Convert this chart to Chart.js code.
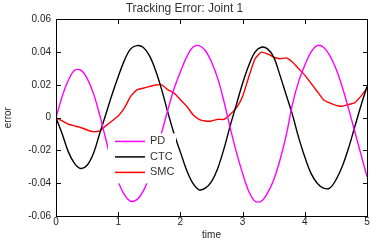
<!DOCTYPE html>
<html>
<head>
<meta charset="utf-8">
<script src="https://cdn.jsdelivr.net/npm/chart.js@4"></script>
<style>
  html, body { margin: 0; padding: 0; background: #fff; }
  #wrap { width: 385px; height: 249px; position: relative; }
  #frame { position: absolute; box-sizing: border-box; border: 1px solid #000; pointer-events: none; }
  .tk { position: absolute; background: #000; pointer-events: none; }
</style>
</head>
<body>
<div id="wrap"><canvas id="errChart"></canvas><div id="frame"></div></div>
<script>
// time (s)
const time = [0, 0.1, 0.2, 0.3, 0.4, 0.5, 0.6, 0.7, 0.8, 0.9,
    1.0, 1.1, 1.2, 1.3, 1.4, 1.5, 1.6, 1.7, 1.8, 1.9,
    2.0, 2.1, 2.2, 2.3, 2.4, 2.5, 2.6, 2.7, 2.8, 2.9,
    3.0, 3.1, 3.2, 3.3, 3.4, 3.5, 3.6, 3.7, 3.8, 3.9,
    4.0, 4.1, 4.2, 4.3, 4.4, 4.5, 4.6, 4.7, 4.8, 4.9, 5.0];

const pdError = [0, 0.013, 0.023, 0.029, 0.029, 0.024, 0.015, 0.002, -0.013, -0.028,
    -0.039, -0.047, -0.051, -0.050, -0.045, -0.036, -0.024, -0.009, 0.005, 0.018,
    0.028, 0.037, 0.043, 0.044, 0.041, 0.034, 0.024, 0.010, -0.006, -0.021,
    -0.034, -0.045, -0.051, -0.051, -0.046, -0.038, -0.026, -0.011, 0.008, 0.022,
    0.032, 0.040, 0.044, 0.043, 0.038, 0.030, 0.019, 0.006, -0.008, -0.022, -0.036];

const ctcError = [0, -0.010, -0.021, -0.028, -0.031, -0.029, -0.022, -0.010, 0.002, 0.014,
    0.025, 0.035, 0.042, 0.044, 0.043, 0.038, 0.029, 0.017, 0.003, -0.010,
    -0.021, -0.032, -0.040, -0.044, -0.043, -0.039, -0.031, -0.019, -0.005, 0.008,
    0.021, 0.032, 0.040, 0.043, 0.042, 0.037, 0.026, 0.014, 0.002, -0.012,
    -0.024, -0.034, -0.040, -0.043, -0.043, -0.038, -0.030, -0.019, -0.006, 0.007, 0.019];

const smcError = [0, -0.002, -0.004, -0.005, -0.006, -0.0075, -0.0085, -0.008, -0.005, -0.002,
    0.001, 0.006, 0.013, 0.017, 0.018, 0.019, 0.020, 0.020, 0.017, 0.015,
    0.011, 0.007, 0.002, -0.001, -0.002, -0.002, -0.001, -0.001, 0.002, 0.006,
    0.013, 0.025, 0.036, 0.040, 0.039, 0.037, 0.036, 0.0365, 0.034, 0.030,
    0.026, 0.021, 0.016, 0.011, 0.009, 0.0075, 0.007, 0.008, 0.009, 0.013, 0.018];

const seriesNames = ['PD', 'CTC', 'SMC'];
const seriesColors = ['#ff00ff', '#000000', '#ff0000'];
const xTicks = [0, 1, 2, 3, 4, 5];
const yTicks = [-0.06, -0.04, -0.02, 0, 0.02, 0.04, 0.06];

const toPoints = arr => arr.map((v, i) => ({ x: time[i], y: v }));
const labelFont = { size: 10, family: 'Liberation Sans' };

// legend inside the axes, white box over the lines
const innerLegend = {
    id: 'innerLegend',
    afterDatasetsDraw(chart) {
        const ctx = chart.ctx;
        const a = chart.chartArea;
        const left = a.left + 52, top = a.top + 114;
        ctx.save();
        ctx.fillStyle = '#fff';
        ctx.fillRect(left, top, 68, 50);
        ctx.font = '11px "Liberation Sans", Arial, sans-serif';
        ctx.textBaseline = 'middle';
        chart.data.datasets.forEach((ds, i) => {
            const y = top + 8 + i * 15.5;
            ctx.strokeStyle = ds.borderColor;
            ctx.lineWidth = 1.5;
            ctx.beginPath();
            ctx.moveTo(left + 7, y);
            ctx.lineTo(left + 37, y);
            ctx.stroke();
            ctx.fillStyle = '#333';
            ctx.fillText(ds.label, left + 42, y);
        });
        ctx.restore();
    }
};

// matlab style box + inward ticks, as html overlay placed from the chart scales
const axesBox = {
    id: 'axesBox',
    afterRender(chart) {
        const a = chart.chartArea;
        const sx = chart.scales.x, sy = chart.scales.y;
        const wrap = document.getElementById('wrap');
        const frame = document.getElementById('frame');
        const L = Math.round(a.left), T = Math.round(a.top);
        const R = Math.round(a.right), B = Math.round(a.bottom);
        frame.style.left = L + 'px';
        frame.style.top = T + 'px';
        frame.style.width = (R - L + 1) + 'px';
        frame.style.height = (B - T + 1) + 'px';
        wrap.querySelectorAll('.tk').forEach(el => el.remove());
        const addTick = (x, y, w, h) => {
            const d = document.createElement('div');
            d.className = 'tk';
            d.style.left = x + 'px'; d.style.top = y + 'px';
            d.style.width = w + 'px'; d.style.height = h + 'px';
            wrap.appendChild(d);
        };
        xTicks.forEach(t => {
            const px = Math.round(sx.getPixelForValue(t));
            addTick(px, B - 4, 1, 4);
            addTick(px, T + 1, 1, 4);
        });
        yTicks.forEach(t => {
            const py = Math.round(sy.getPixelForValue(t));
            addTick(L + 1, py, 4, 1);
            addTick(R - 4, py, 4, 1);
        });
    }
};

new Chart(document.getElementById('errChart').getContext('2d'), {
    type: 'line',
    data: {
        datasets: [
            { label: seriesNames[0], data: toPoints(pdError), borderColor: seriesColors[0], borderWidth: 1.4, pointRadius: 0, tension: 0.35 },
            { label: seriesNames[1], data: toPoints(ctcError), borderColor: seriesColors[1], borderWidth: 1.4, pointRadius: 0, tension: 0.35 },
            { label: seriesNames[2], data: toPoints(smcError), borderColor: seriesColors[2], borderWidth: 1.4, pointRadius: 0, tension: 0.15 }
        ]
    },
    options: {
        responsive: true,
        maintainAspectRatio: false,
        animation: false,
        layout: { padding: { left: 2, right: 18, top: 0, bottom: 8 } },
        scales: {
            x: {
                type: 'linear',
                min: 0,
                max: 5,
                afterBuildTicks: s => { s.ticks = xTicks.map(v => ({ value: v })); },
                grid: { display: false, drawTicks: false },
                border: { display: false },
                ticks: { color: '#222', font: labelFont, padding: 0, maxRotation: 0 },
                title: { display: true, text: 'time', color: '#222', font: labelFont, padding: { top: 1, bottom: 0 } }
            },
            y: {
                min: -0.06,
                max: 0.06,
                afterBuildTicks: s => { s.ticks = yTicks.map(v => ({ value: v })); },
                afterFit: s => { s.width = 54; },
                grid: { display: false, drawTicks: false },
                border: { display: false },
                ticks: {
                    color: '#222',
                    font: labelFont,
                    padding: 5,
                    callback: v => (Math.abs(v) < 1e-9 ? '0' : v.toFixed(2))
                },
                title: { display: true, text: 'error', color: '#222', font: labelFont, padding: { top: 0, bottom: 0 } }
            }
        },
        plugins: {
            legend: { display: false },
            title: {
                display: true,
                text: 'Tracking Error: Joint 1',
                color: '#333',
                font: { size: 12, weight: 'normal', family: 'Liberation Sans' },
                padding: { top: 1, bottom: 4 }
            }
        }
    },
    plugins: [innerLegend, axesBox]
});
</script>
</body>
</html>
